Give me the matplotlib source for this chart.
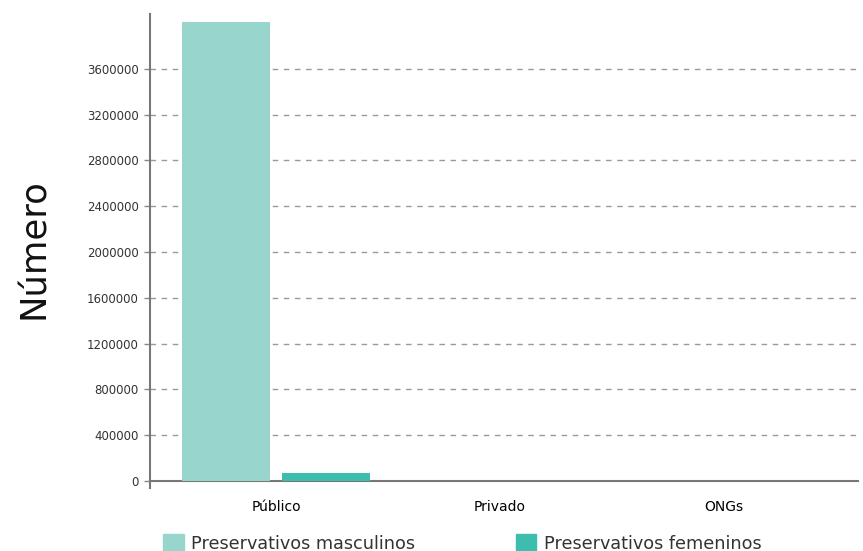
import matplotlib
matplotlib.use("Agg")
import matplotlib.pyplot as plt
import numpy as np
from matplotlib.patches import Patch

categories = ["Público", "Privado", "ONGs"]
male = [4010000, 0, 0]
female = [70000, 0, 0]
series_names = ["Preservativos masculinos", "Preservativos femeninos"]
colors = ["#98d6cd", "#3dbdae"]
yticks = list(range(0, 3600001, 400000))

fig = plt.figure(figsize=(8.63, 5.51), dpi=100)
ax = fig.add_axes([0.1738, 0.1143, 0.8204, 0.8603])

x = np.arange(len(categories))
w = 0.393
gap = 0.027
ax.bar(x - gap - w / 2, male, width=w, color=colors[0], zorder=3)
ax.bar(x + gap + w / 2, female, width=w, color=colors[1], zorder=3)

ax.set_xlim(-0.5625, 2.598)
ax.set_ylim(-61000, 4078000)
ax.set_yticks(yticks)
ax.set_yticklabels([str(v) for v in yticks], fontsize=8.5, color="#333333")
ax.set_xticks(x)
ax.set_xticklabels(categories, fontsize=8.5, color="#333333")
ax.tick_params(axis="x", length=0, pad=14)
ax.tick_params(axis="y", length=4, color="#888888", width=1, pad=4)

for v in yticks[1:]:
    ax.axhline(v, color="#999999", lw=1, ls=(0, (4, 4)), zorder=1)

for s in ["top", "right"]:
    ax.spines[s].set_visible(False)
ax.spines["left"].set_color("#777777")
ax.spines["left"].set_linewidth(1.5)
ax.spines["bottom"].set_position(("data", 0))
ax.spines["bottom"].set_color("#777777")
ax.spines["bottom"].set_linewidth(1.5)

ax.set_ylabel("Número", fontsize=25.5, color="#111111")
ax.yaxis.set_label_coords(-0.14, 0.505)

handles = [Patch(color=c) for c in colors]
fig.legend(handles, series_names, loc="center", bbox_to_anchor=(0.536, 0.013),
           ncol=2, frameon=False, fontsize=12.7, columnspacing=5.7,
           handlelength=1.15, handleheight=1.15, handletextpad=0.45,
           labelcolor="#333333")

fig.savefig("out.png", dpi=100)
